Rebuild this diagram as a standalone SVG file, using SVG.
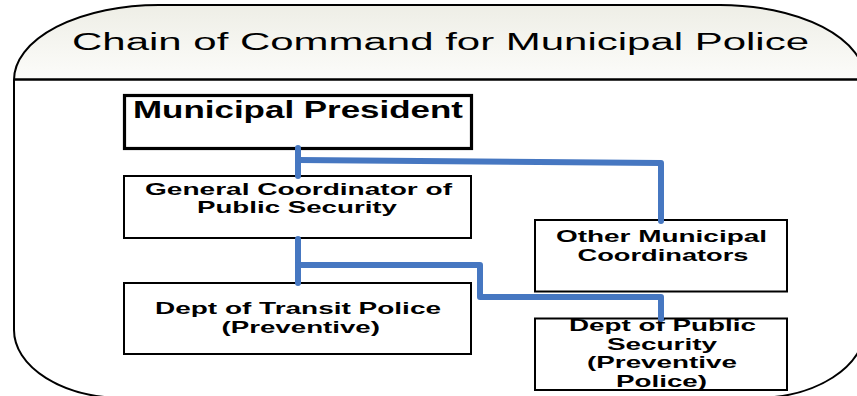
<svg xmlns="http://www.w3.org/2000/svg" width="857" height="396" viewBox="0 0 857 396">
  <defs>
    <linearGradient id="hdr" x1="0" y1="0" x2="0" y2="1">
      <stop offset="0" stop-color="#eeeee6"/>
      <stop offset="1" stop-color="#fcfcfa"/>
    </linearGradient>
  </defs>
  <style>
    .title { font-family: "Liberation Sans", Arial, sans-serif; font-size: 23px; fill: #000; }
    .lbl { font-family: "Liberation Sans", Arial, sans-serif; font-weight: bold; font-size: 16.5px; fill: #000; }
    .big { font-size: 23px; }
    .box { fill: none; stroke: #000; stroke-width: 2; }
    .thick { stroke-width: 3.2; }
    .conn { fill: none; stroke: #4677C1; stroke-width: 6; stroke-linecap: round; stroke-linejoin: round; }
  </style>
  <rect width="857" height="396" fill="#fff"/>
  <g id="frame">
    <path d="M14,80 A145,75 0 0 1 159,5 H720 A145,75 0 0 1 865,80 Z" fill="url(#hdr)"/>
    <path d="M14,80 V330 A110,68 0 0 0 124,398 H755 A110,70 0 0 0 865,328 V80 A145,75 0 0 0 720,5 H159 A145,75 0 0 0 14,80 Z" fill="none" stroke="#000" stroke-width="2"/>
    <line x1="14" y1="79.5" x2="865" y2="79.5" stroke="#000" stroke-width="2.5"/>
    <text class="title" x="72" y="49.5" textLength="737" lengthAdjust="spacingAndGlyphs">Chain of Command for Municipal Police</text>
  </g>
  <g id="president">
    <text class="lbl big" x="133" y="117.5" textLength="330" lengthAdjust="spacingAndGlyphs">Municipal President</text>
    <rect class="box thick" x="124.5" y="95.5" width="347" height="53"/>
  </g>
  <g id="general-coordinator">
    <text class="lbl" x="145" y="194.5" textLength="307" lengthAdjust="spacingAndGlyphs">General Coordinator of</text>
    <text class="lbl" x="197" y="213" textLength="200" lengthAdjust="spacingAndGlyphs">Public Security</text>
    <rect class="box" x="124" y="176" width="347" height="62"/>
  </g>
  <g id="transit-police">
    <text class="lbl" x="155" y="314" textLength="286" lengthAdjust="spacingAndGlyphs">Dept of Transit Police</text>
    <text class="lbl" x="221.5" y="333" textLength="158.5" lengthAdjust="spacingAndGlyphs">(Preventive)</text>
    <rect class="box" x="124" y="283" width="347" height="71"/>
  </g>
  <g id="other-coordinators">
    <text class="lbl" x="556" y="242" textLength="211" lengthAdjust="spacingAndGlyphs">Other Municipal</text>
    <text class="lbl" x="577.5" y="261" textLength="171" lengthAdjust="spacingAndGlyphs">Coordinators</text>
    <rect class="box" x="535" y="220" width="252" height="71.5"/>
  </g>
  <g id="public-security">
    <text class="lbl" x="569" y="331" textLength="187" lengthAdjust="spacingAndGlyphs">Dept of Public</text>
    <text class="lbl" x="607" y="349.5" textLength="110" lengthAdjust="spacingAndGlyphs">Security</text>
    <text class="lbl" x="587" y="368" textLength="150" lengthAdjust="spacingAndGlyphs">(Preventive</text>
    <text class="lbl" x="616" y="386.5" textLength="91" lengthAdjust="spacingAndGlyphs">Police)</text>
    <rect class="box" x="535" y="318.5" width="252" height="71.5"/>
  </g>
  <g id="connectors">
    <path class="conn" d="M298,148 V176"/>
    <path class="conn" d="M298,160 L661,163 V221"/>
    <path class="conn" d="M298,239 V283"/>
    <path class="conn" d="M298,265 H480 V297 H661 V319"/>
  </g>
</svg>
